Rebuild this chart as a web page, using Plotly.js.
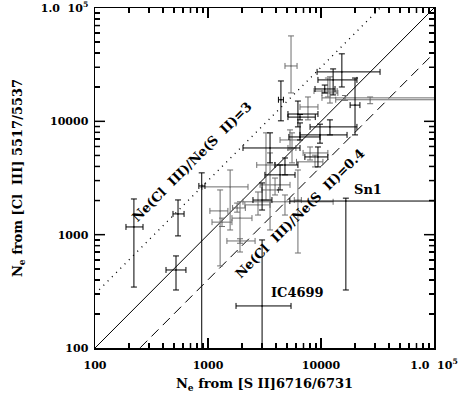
<!DOCTYPE html>
<html>
<head>
<meta charset="utf-8">
<script src="https://cdn.plot.ly/plotly-3.0.1.min.js"></script>
<style>
  html, body { margin: 0; padding: 0; background: #fff; }
  #chart { width: 465px; height: 393px; }
</style>
</head>
<body>
<div id="chart"></div>
<script>
// ---- data (Ne in cm^-3) ----
// black error bars
const blackX   = [221, 543, 521, 880, 3010, 16600, 15300, 4420, 12800, 20000, 6250, 6520, 6520, 10800, 12000, 9800, 9400, 3540, 3010, 4340, 4800];
const blackY   = [1170, 1524, 488, 2690, 235, 1980, 27300, 15500, 23200, 13900, 11600, 10900, 7280, 19300, 8930, 7590, 4850, 5820, 2020, 3370, 4120];
const blackXLo = [188, 490, 425, 830, 1770, 5300, 9230, 4200, 9400, 18100, 5100, 5100, 5200, 8850, 8000, 6520, 7200, 2040, 2500, 3190, 3920];
const blackXHi = [266, 614, 638, 940, 5430, 200000, 33300, 4650, 20800, 22100, 9400, 8900, 9800, 13300, 20800, 17000, 11500, 6520, 3680, 5890, 6250];
const blackYLo = [345, 975, 325, 50, 50, 325, 20100, 10100, 17100, 7590, 8930, 10300, 6850, 17800, 7590, 6420, 3960, 4300, 1650, 2480, 3370];
const blackYHi = [2065, 2024, 649, 3510, 898, 2100, 39400, 22700, 29000, 24100, 15100, 11500, 9680, 20900, 10300, 9440, 5940, 7910, 2860, 4120, 4750];

// grey error bars
const greyX   = [1570, 1280, 1330, 1920, 1920, 1810, 5430, 27200, 11500, 16300, 7670, 12000, 8000, 8850, 5540, 3260, 3540, 3920, 2770, 6250, 4800, 5320];
const greyY   = [2640, 1620, 1290, 1400, 880, 1720, 30800, 15500, 18500, 16100, 13400, 17800, 5260, 4390, 5820, 4120, 2480, 2750, 1830, 2020, 1950, 6850];
const greyXLo = [885, 1040, 1085, 1630, 1470, 1650, 4800, 13500, 8670, 10200, 6520, 10200, 6940, 6070, 5100, 2700, 3000, 2890, 2120, 5800, 2040, 4340];
const greyXHi = [2260, 1500, 1630, 2450, 2610, 2140, 6140, 200000, 13900, 200000, 9400, 14100, 11500, 10400, 6000, 3900, 4200, 5320, 3540, 6700, 12800, 6520];
const greyYLo = [1100, 530, 1180, 703, 840, 1580, 17800, 14300, 16400, 15300, 10300, 14500, 4560, 3960, 4300, 2020, 1100, 2240, 1490, 689, 1490, 5600];
const greyYHi = [3720, 2480, 1400, 1950, 920, 1900, 56700, 16400, 24100, 16900, 16400, 24700, 5940, 5030, 7910, 7910, 5260, 3160, 2380, 3720, 2240, 8400];

// reference lines Ne(Cl III) = ratio * Ne(S II)
const lineRatios = [1, 3, 0.4];
const lineDash   = ['solid', '1px,5px', '10px,6px'];
const lineEnds   = [100, 100000];

// tick positions / label replacements (plotly may print 10000 as "10,000")
const decades = [100, 1000, 10000, 100000];
const minorDigits = [2, 3, 4, 5, 6, 7, 8, 9];
const tickAlias = {
    '10,000': '10000',
    '100,000': '1.0  10<sup>5</sup>',
    '100000': '1.0  10<sup>5</sup>'
};

const FONT = 'DejaVu Serif, serif';
const GREY = '#6e6e6e';
const PLOT_W = 465 - 95 - 31;
const PLOT_H = 393 - 8 - 45;

function errTrace(x, y, xLo, xHi, yLo, yHi, color) {
    return {
        x: x, y: y,
        type: 'scatter',
        mode: 'markers',
        marker: { size: 1.5, color: color },
        error_x: {
            type: 'data', symmetric: false,
            array: x.map((v, i) => xHi[i] - v),
            arrayminus: x.map((v, i) => v - xLo[i]),
            color: color, thickness: 1, width: 3
        },
        error_y: {
            type: 'data', symmetric: false,
            array: y.map((v, i) => yHi[i] - v),
            arrayminus: y.map((v, i) => v - yLo[i]),
            color: color, thickness: 1, width: 3
        },
        hoverinfo: 'skip'
    };
}

const traces = [];
lineRatios.forEach((r, i) => {
    traces.push({
        x: lineEnds, y: lineEnds.map(v => v * r),
        type: 'scatter', mode: 'lines',
        line: { color: '#000', width: i === 1 ? 1.3 : 1, dash: lineDash[i] },
        hoverinfo: 'skip'
    });
});
traces.push(errTrace(greyX, greyY, greyXLo, greyXHi, greyYLo, greyYHi, GREY));
traces.push(errTrace(blackX, blackY, blackXLo, blackXHi, blackYLo, blackYHi, '#000'));

// tick marks on all four sides, drawn as shapes (inside, major 10px, minor 5px)
const tickShapes = [];
function addTick(v, len) {
    const f = (Math.log10(v) - 2) / 3;
    const lx = len / PLOT_W, ly = len / PLOT_H;
    const mk = (x0, x1, y0, y1) => ({
        type: 'line', xref: 'paper', yref: 'paper', layer: 'above',
        x0: x0, x1: x1, y0: y0, y1: y1,
        line: { color: '#000', width: 1.5 }
    });
    tickShapes.push(mk(f, f, 0, ly));
    tickShapes.push(mk(f, f, 1, 1 - ly));
    tickShapes.push(mk(0, lx, f, f));
    tickShapes.push(mk(1, 1 - lx, f, f));
}
decades.slice(0, 3).forEach(d => {
    if (d > 100) addTick(d, 10);
    minorDigits.forEach(k => addTick(d * k, 5));
});

const tickFont = { family: FONT, size: 11, color: '#000', weight: 'bold' };
const titleFont = { family: FONT, size: 13, color: '#000', weight: 'bold' };
const labelFont = { family: FONT, size: 13, color: '#000', weight: 'bold' };

function axis(titleText, standoff, labelStandoff) {
    return {
        type: 'log',
        range: [2, 5],
        dtick: 1,
        exponentformat: 'none',
        labelalias: tickAlias,
        ticks: 'inside',
        ticklen: 10,
        tickwidth: 1.5,
        tickcolor: 'black',
        mirror: 'allticks',
        showline: true,
        linecolor: 'black',
        linewidth: 1.5,
        gridcolor: 'rgba(0,0,0,0)',
        minor: { dtick: 'D1', ticks: 'inside', ticklen: 5, tickwidth: 1.5, tickcolor: 'black' },
        tickfont: tickFont,
        ticklabelstandoff: labelStandoff,
        title: { text: titleText, font: titleFont, standoff: standoff }
    };
}

const layout = {
    width: 465,
    height: 393,
    margin: { l: 95, r: 31, t: 8, b: 45 },
    paper_bgcolor: '#fff',
    plot_bgcolor: '#fff',
    showlegend: false,
    xaxis: axis('N<sub>e</sub> from [S II]6716/6731', 8, 6),
    yaxis: axis('N<sub>e</sub> from [Cl  III] 5517/5537', 15, 3),
    shapes: tickShapes,
    annotations: [
        { x: 2.858, y: 3.65, xref: 'x', yref: 'y', text: 'Ne(Cl  III)/Ne(S  II)=3', showarrow: false, textangle: -45, font: labelFont },
        { x: 3.814, y: 3.183, xref: 'x', yref: 'y', text: 'Ne(Cl  III)/Ne(S  II)=0.4', showarrow: false, textangle: -45, font: labelFont },
        { x: 4.416, y: 3.395, xref: 'x', yref: 'y', text: 'Sn1', showarrow: false, font: labelFont },
        { x: 3.788, y: 2.494, xref: 'x', yref: 'y', text: 'IC4699', showarrow: false, font: labelFont }
    ]
};

Plotly.newPlot('chart', traces, layout, { staticPlot: true, displayModeBar: false });
</script>
</body>
</html>
